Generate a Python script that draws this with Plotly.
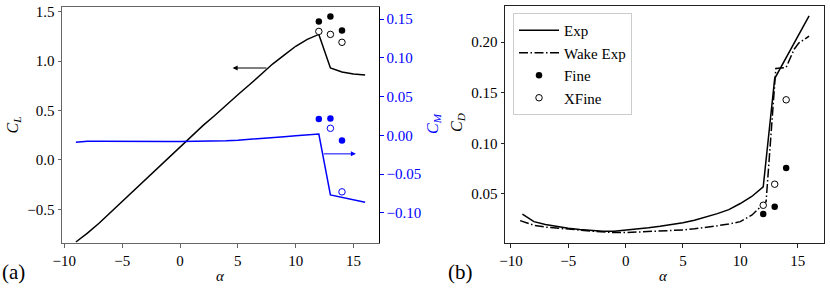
import plotly.graph_objects as go

# ---------------- data ----------------
alpha_exp = [-9, -8, -7, -6, -5, -4, -3, -2, -1, 0, 1, 2, 3, 4, 5, 6, 7, 8, 9, 10, 11, 12, 13, 14, 15, 16]
cl_exp = [-0.83, -0.74, -0.64, -0.53, -0.42, -0.32, -0.21, -0.10, 0.02, 0.13, 0.24, 0.35, 0.45,
          0.56, 0.66, 0.76, 0.87, 0.97, 1.06, 1.15, 1.22, 1.27, 0.93, 0.89, 0.87, 0.86]
cm_exp = [-0.0090, -0.0078, -0.0078, -0.0080, -0.0082, -0.0083, -0.0083, -0.0083, -0.0082, -0.0081,
          -0.0080, -0.0078, -0.0075, -0.0070, -0.0063, -0.0054, -0.0044, -0.0030, -0.0018, -0.0005,
          0.0010, 0.0016, -0.0770, -0.0800, -0.0832, -0.0863]

alpha_cfd = [12, 13, 14]
cl_fine = [1.40, 1.45, 1.31]
cl_xfine = [1.30, 1.27, 1.19]
cm_fine = [0.021, 0.0215, -0.0068]
cm_xfine = [None, 0.009, -0.073]

cd_exp = [0.030, 0.0226, 0.0198, 0.0178, 0.0160, 0.0148, 0.0138, 0.0130, 0.0132, 0.0142, 0.0153,
          0.0166, 0.0180, 0.0197, 0.0216, 0.0240, 0.0270, 0.0305, 0.0345, 0.0405, 0.0475, 0.0570,
          0.1640, 0.1850, 0.2050, 0.2260]
alpha_wake = [-9.2, -8, -7, -6, -5, -4, -3, -2, -1, 0, 1, 2, 3, 4, 5, 6, 7, 8, 9, 10, 11, 11.75,
              12.25, 13.1, 14, 14.7, 15.1, 16]
cd_wake = [0.0236, 0.0190, 0.0172, 0.0160, 0.0152, 0.0143, 0.0133, 0.0122, 0.0118, 0.0118, 0.0122,
           0.0126, 0.0130, 0.0137, 0.0144, 0.0155, 0.0168, 0.0185, 0.0203, 0.0226, 0.0290, 0.0375,
           0.0424, 0.1740, 0.1750, 0.1930, 0.1990, 0.2060]
cd_fine = [0.0302, 0.0374, 0.0757]
cd_xfine = [0.0388, 0.0596, 0.1430]

x_ticks = [-10, -5, 0, 5, 10, 15]
cl_ticks = [-0.5, 0.0, 0.5, 1.0, 1.5]
cm_ticks = [-0.10, -0.05, 0.00, 0.05, 0.10, 0.15]
cd_ticks = [0.05, 0.10, 0.15, 0.20]

W, H = 830, 288
FONT = "Liberation Serif"
FS = 15
BLUE = "#0000ff"
GRAY = "#666666"


def px(x):
    return x / W


def py(y):
    return 1 - y / H


fig = go.Figure()

# ----- panel (a) -----
fig.add_trace(go.Scatter(x=alpha_exp, y=cl_exp, mode="lines", line=dict(color="black", width=1.5),
                         xaxis="x", yaxis="y", showlegend=False))
fig.add_trace(go.Scatter(x=alpha_cfd, y=cl_fine, mode="markers",
                         marker=dict(color="black", size=6.5, symbol="circle"),
                         xaxis="x", yaxis="y", showlegend=False))
fig.add_trace(go.Scatter(x=alpha_cfd, y=cl_xfine, mode="markers",
                         marker=dict(color="white", size=6.5, symbol="circle",
                                     line=dict(color="black", width=1)),
                         xaxis="x", yaxis="y", showlegend=False))
fig.add_trace(go.Scatter(x=alpha_exp, y=cm_exp, mode="lines", line=dict(color=BLUE, width=1.5),
                         xaxis="x", yaxis="y2", showlegend=False))
fig.add_trace(go.Scatter(x=alpha_cfd, y=cm_fine, mode="markers",
                         marker=dict(color=BLUE, size=6.5, symbol="circle"),
                         xaxis="x", yaxis="y2", showlegend=False))
fig.add_trace(go.Scatter(x=alpha_cfd, y=cm_xfine, mode="markers",
                         marker=dict(color="white", size=6.5, symbol="circle",
                                     line=dict(color=BLUE, width=1)),
                         xaxis="x", yaxis="y2", showlegend=False))

# ----- panel (b) -----
fig.add_trace(go.Scatter(x=alpha_exp, y=cd_exp, mode="lines", name="Exp",
                         line=dict(color="black", width=1.5), xaxis="x2", yaxis="y3"))
fig.add_trace(go.Scatter(x=alpha_wake, y=cd_wake, mode="lines", name="Wake Exp",
                         line=dict(color="black", width=1.5, dash="9px,2.5px,1.5px,2.5px"),
                         xaxis="x2", yaxis="y3"))
fig.add_trace(go.Scatter(x=alpha_cfd, y=cd_fine, mode="markers", name="Fine",
                         marker=dict(color="black", size=6.5, symbol="circle"),
                         xaxis="x2", yaxis="y3"))
fig.add_trace(go.Scatter(x=alpha_cfd, y=cd_xfine, mode="markers", name="XFine",
                         marker=dict(color="white", size=6.5, symbol="circle",
                                     line=dict(color="black", width=1)),
                         xaxis="x2", yaxis="y3"))

tickfont = dict(family=FONT, size=FS, color="black")
common_x = dict(tickvals=x_ticks, ticks="outside", ticklen=3.5, tickwidth=0.8, automargin=False,
                showgrid=False, zeroline=False, showline=True, linewidth=1, mirror=True,
                tickfont=tickfont)

fig.update_layout(
    width=W, height=H, autosize=False,
    margin=dict(l=0, r=0, t=0, b=0, pad=0, autoexpand=False),
    paper_bgcolor="white", plot_bgcolor="white",
    font=dict(family=FONT, size=FS, color="black"),
    xaxis=dict(domain=[px(62), px(379)], range=[-10.2, 17.2], anchor="y",
               linecolor=GRAY, tickcolor=GRAY, **common_x),
    yaxis=dict(domain=[py(243), py(7)], range=[-0.84, 1.547], anchor="x", automargin=False,
               tickvals=cl_ticks, tickformat=".1f", ticks="outside", ticklen=3.5, tickwidth=0.8,
               tickcolor=GRAY, showgrid=False, zeroline=False, showline=True, linecolor=GRAY,
               linewidth=1, mirror=True, tickfont=tickfont),
    yaxis2=dict(overlaying="y", side="right", anchor="x", range=[-0.139, 0.1655], automargin=False,
                tickvals=cm_ticks, tickformat=".2f", ticks="outside", ticklen=3.5, tickwidth=0.8,
                tickcolor=BLUE, showgrid=False, zeroline=False, showline=True, linecolor="black",
                linewidth=1, tickfont=dict(family=FONT, size=FS, color=BLUE)),
    xaxis2=dict(domain=[px(505), px(824)], range=[-10.52, 17.3], anchor="y3",
                linecolor="#222222", tickcolor="#222222", **common_x),
    yaxis3=dict(domain=[py(243), py(5.7)], range=[0.0015, 0.236], anchor="x2", automargin=False,
                tickvals=cd_ticks, tickformat=".2f", ticks="outside", ticklen=3.5, tickwidth=0.8,
                tickcolor="#222222", showgrid=False, zeroline=False, showline=True,
                linecolor="#222222", linewidth=1, mirror=True, tickfont=tickfont),
    legend=dict(x=px(513), y=py(13), xanchor="left", yanchor="top",
                bordercolor="#cccccc", borderwidth=1, bgcolor="white", itemwidth=40,
                font=dict(family=FONT, size=FS, color="black"), tracegroupgap=0),
)

annotations = [
    dict(text="(a)", x=px(0), y=py(272), xanchor="left", font=dict(family=FONT, size=21)),
    dict(text="(b)", x=px(446), y=py(272), xanchor="left", font=dict(family=FONT, size=21)),
    dict(text="<i>α</i>", x=px(220), y=py(276), font=dict(family=FONT, size=FS)),
    dict(text="<i>α</i>", x=px(663), y=py(276), font=dict(family=FONT, size=FS)),
    dict(text="<i>C</i><sub><i>L</i></sub>", x=px(1), y=py(125), xanchor="left", textangle=-90,
         font=dict(family=FONT, size=FS + 1)),
    dict(text="<i>C</i><sub><i>M</i></sub>", x=px(433), y=py(124), textangle=-90,
         font=dict(family=FONT, size=FS + 1, color=BLUE)),
    dict(text="<i>C</i><sub><i>D</i></sub>", x=px(458), y=py(123), textangle=-90,
         font=dict(family=FONT, size=FS + 1)),
]
for a in annotations:
    a.setdefault("xanchor", "center")
    a.update(xref="paper", yref="paper", showarrow=False, yanchor="middle")

# arrows
annotations.append(dict(x=4.55, y=0.93, ax=7.6, ay=0.93, xref="x", yref="y", axref="x", ayref="y",
                        showarrow=True, arrowhead=2, arrowsize=1, arrowwidth=1, arrowcolor="black",
                        text="", standoff=0))
annotations.append(dict(x=15.2, y=-0.024, ax=12.3, ay=-0.024, xref="x", yref="y2", axref="x",
                        ayref="y2", showarrow=True, arrowhead=2, arrowsize=1, arrowwidth=1,
                        arrowcolor=BLUE, text="", standoff=0))
fig.update_layout(annotations=annotations)

fig.write_html("out.html", config={"displayModeBar": False},
               post_script="document.body.style.margin='0px';")
